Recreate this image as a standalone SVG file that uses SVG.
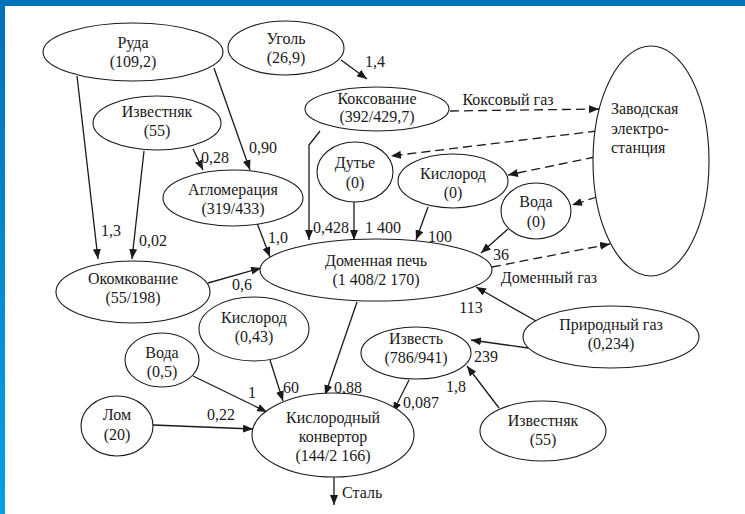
<svg xmlns="http://www.w3.org/2000/svg" width="745" height="514" viewBox="0 0 745 514" font-family="'Liberation Serif', 'DejaVu Serif', serif" font-size="16">
  <defs>
    <linearGradient id="sideBar" x1="0" y1="0" x2="0" y2="1">
      <stop offset="0" stop-color="#0071bb"/>
      <stop offset="1" stop-color="#00a0e3"/>
    </linearGradient>
    <marker id="arrow" markerUnits="userSpaceOnUse" markerWidth="10" markerHeight="8" refX="10" refY="4" orient="auto">
      <path d="M0,0 L10,4 L0,8 z" fill="#1a1a1a"/>
    </marker>
    <style>
      .node ellipse { fill: #ffffff; stroke: #1a1a1a; stroke-width: 1.1; }
      text { fill: #1a1a1a; }
      .node text { text-anchor: middle; }
      .lbl { text-anchor: middle; }
      .edge { fill: none; stroke: #1a1a1a; stroke-width: 1.3; marker-end: url(#arrow); }
      .dash { stroke-dasharray: 9 5; }
    </style>
  </defs>

  <rect x="0" y="0" width="745" height="514" fill="#ffffff"/>
  <rect x="0" y="0" width="745" height="6" fill="#0071bb"/>
  <rect x="0" y="0" width="5" height="514" fill="url(#sideBar)"/>

  <!-- connectors -->
  <g id="connectors">
    <line class="edge" x1="77" y1="76" x2="98" y2="259"/>
    <line class="edge" x1="144" y1="151" x2="132" y2="259"/>
    <line class="edge" x1="214" y1="68" x2="250" y2="170"/>
    <line class="edge" x1="193" y1="149" x2="203" y2="170"/>
    <line class="edge" x1="341" y1="60" x2="367" y2="79"/>
    <polyline class="edge" points="320,131 309,145 309,240"/>
    <line class="edge" x1="354" y1="202" x2="354" y2="240"/>
    <line class="edge" x1="428" y1="207" x2="416" y2="240"/>
    <line class="edge" x1="508" y1="229" x2="481" y2="253"/>
    <line class="edge" x1="257" y1="223" x2="270" y2="257"/>
    <line class="edge" x1="208" y1="283" x2="261" y2="268"/>
    <line class="edge" x1="357" y1="302" x2="325" y2="395"/>
    <line class="edge" x1="270" y1="360" x2="283" y2="401"/>
    <line class="edge" x1="193" y1="376" x2="267" y2="412"/>
    <line class="edge" x1="153" y1="425" x2="253" y2="429"/>
    <line class="edge" x1="409" y1="380" x2="393" y2="412"/>
    <line class="edge" x1="536" y1="321" x2="476" y2="287"/>
    <line class="edge" x1="528" y1="348" x2="471" y2="340"/>
    <line class="edge" x1="499" y1="408" x2="467" y2="366"/>
    <line class="edge" x1="334" y1="477" x2="334" y2="505"/>

    <line class="edge dash" x1="450" y1="111" x2="599" y2="109"/>
    <line class="edge dash" x1="597" y1="131" x2="391" y2="156"/>
    <line class="edge dash" x1="595" y1="157" x2="508" y2="175"/>
    <line class="edge dash" x1="597" y1="197" x2="572" y2="205"/>
    <line class="edge dash" x1="492" y1="267" x2="610" y2="244"/>

    <text class="lbl" x="111" y="236">1,3</text>
    <text class="lbl" x="153" y="246">0,02</text>
    <text class="lbl" x="263" y="153">0,90</text>
    <text class="lbl" x="215" y="163">0,28</text>
    <text class="lbl" x="375" y="67">1,4</text>
    <text class="lbl" x="331" y="233">0,428</text>
    <text class="lbl" x="383" y="233">1 400</text>
    <text class="lbl" x="440" y="242">100</text>
    <text class="lbl" x="501" y="260">36</text>
    <text class="lbl" x="278" y="243">1,0</text>
    <text class="lbl" x="242" y="290">0,6</text>
    <text class="lbl" x="348" y="393">0,88</text>
    <text class="lbl" x="291" y="393">60</text>
    <text class="lbl" x="252" y="398">1</text>
    <text class="lbl" x="221" y="420">0,22</text>
    <text class="lbl" x="421" y="408">0,087</text>
    <text class="lbl" x="471" y="313">113</text>
    <text class="lbl" x="486" y="362">239</text>
    <text class="lbl" x="456" y="392">1,8</text>
    <text x="342" y="498">Сталь</text>
    <text class="lbl" x="508" y="105">Коксовый газ</text>
    <text class="lbl" x="549" y="283">Доменный газ</text>
  </g>

  <!-- nodes -->
  <g id="ruda" class="node">
    <ellipse cx="133" cy="52" rx="90" ry="29"/>
    <text x="133" y="48">Руда</text>
    <text x="133" y="67">(109,2)</text>
  </g>
  <g id="ugol" class="node">
    <ellipse cx="286" cy="48" rx="58" ry="27"/>
    <text x="286" y="44">Уголь</text>
    <text x="286" y="63">(26,9)</text>
  </g>
  <g id="koksovanie" class="node">
    <ellipse cx="377" cy="109" rx="72" ry="22"/>
    <text x="377" y="104">Коксование</text>
    <text x="377" y="122">(392/429,7)</text>
  </g>
  <g id="dutie" class="node">
    <ellipse cx="355" cy="172" rx="38" ry="30"/>
    <text x="355" y="168">Дутье</text>
    <text x="355" y="188">(0)</text>
  </g>
  <g id="kislorod-dp" class="node">
    <ellipse cx="453" cy="181" rx="55" ry="27"/>
    <text x="453" y="179">Кислород</text>
    <text x="453" y="198">(0)</text>
  </g>
  <g id="voda-dp" class="node">
    <ellipse cx="536" cy="211" rx="35" ry="28"/>
    <text x="536" y="207">Вода</text>
    <text x="536" y="227">(0)</text>
  </g>
  <g id="elektrostanciya" class="node">
    <ellipse cx="651" cy="161" rx="58" ry="115"/>
    <text x="611" y="114" style="text-anchor:start">Заводская</text>
    <text x="611" y="134" style="text-anchor:start">электро-</text>
    <text x="611" y="153" style="text-anchor:start">станция</text>
  </g>
  <g id="izvestnyak-1" class="node">
    <ellipse cx="157" cy="123" rx="64" ry="27"/>
    <text x="157" y="117">Известняк</text>
    <text x="157" y="136">(55)</text>
  </g>
  <g id="aglomeraciya" class="node">
    <ellipse cx="233" cy="198" rx="70" ry="28"/>
    <text x="233" y="195">Агломерация</text>
    <text x="233" y="214">(319/433)</text>
  </g>
  <g id="okomkovanie" class="node">
    <ellipse cx="133" cy="292" rx="77" ry="31"/>
    <text x="133" y="284">Окомкование</text>
    <text x="133" y="303">(55/198)</text>
  </g>
  <g id="domennaya-pech" class="node">
    <ellipse cx="376" cy="270" rx="116" ry="31"/>
    <text x="376" y="266">Доменная печь</text>
    <text x="376" y="285">(1 408/2 170)</text>
  </g>
  <g id="kislorod-kk" class="node">
    <ellipse cx="254" cy="329" rx="55" ry="32"/>
    <text x="254" y="323">Кислород</text>
    <text x="254" y="342">(0,43)</text>
  </g>
  <g id="voda-kk" class="node">
    <ellipse cx="162" cy="360" rx="37" ry="27"/>
    <text x="162" y="358">Вода</text>
    <text x="162" y="377">(0,5)</text>
  </g>
  <g id="lom" class="node">
    <ellipse cx="117" cy="426" rx="36" ry="30"/>
    <text x="117" y="420">Лом</text>
    <text x="117" y="440">(20)</text>
  </g>
  <g id="konvertor" class="node">
    <ellipse cx="333" cy="435" rx="81" ry="42"/>
    <text x="333" y="423">Кислородный</text>
    <text x="333" y="442">конвертор</text>
    <text x="333" y="461">(144/2 166)</text>
  </g>
  <g id="izvest" class="node">
    <ellipse cx="416" cy="353" rx="55" ry="26"/>
    <text x="416" y="344">Известь</text>
    <text x="416" y="363">(786/941)</text>
  </g>
  <g id="prirodnyi-gaz" class="node">
    <ellipse cx="611" cy="337" rx="88" ry="31"/>
    <text x="611" y="330">Природный газ</text>
    <text x="611" y="349">(0,234)</text>
  </g>
  <g id="izvestnyak-2" class="node">
    <ellipse cx="543" cy="431" rx="63" ry="30"/>
    <text x="543" y="426">Известняк</text>
    <text x="543" y="445">(55)</text>
  </g>
</svg>
